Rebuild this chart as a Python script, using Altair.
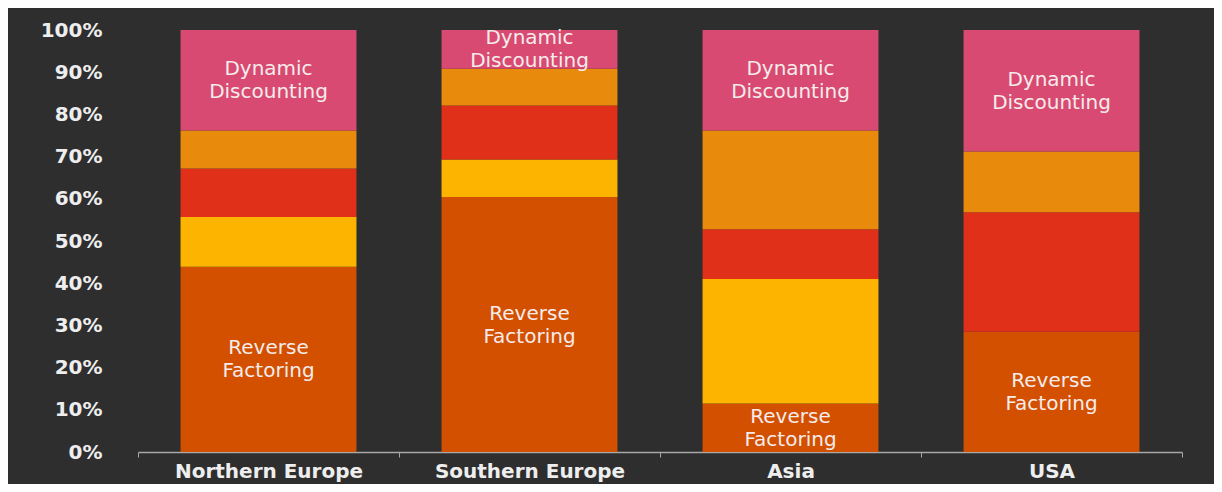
import altair as alt
import pandas as pd

regions = ["Northern Europe", "Southern Europe", "Asia", "USA"]
series = ["Reverse Factoring", "Series 2", "Series 3", "Series 4", "Dynamic Discounting"]
reverse_factoring = [43.9, 60.4, 11.5, 28.5]
series_2 = [11.8, 8.9, 29.5, 0.0]
series_3 = [11.5, 12.8, 11.8, 28.3]
series_4 = [9.0, 8.7, 23.4, 14.4]
dynamic_discounting = [23.8, 9.2, 23.8, 28.8]
segment_labels = {"Reverse Factoring": "Reverse\nFactoring",
                  "Dynamic Discounting": "Dynamic\nDiscounting"}
colors = ["#d35000", "#fdb400", "#e0301a", "#e88a0c", "#d94a72"]

values = [reverse_factoring, series_2, series_3, series_4, dynamic_discounting]
rows = []
for si, s in enumerate(series):
    for ri, r in enumerate(regions):
        rows.append({"region": r, "series": s, "order": si,
                     "value": values[si][ri],
                     "label": segment_labels.get(s, "")})
df = pd.DataFrame(rows)

x_enc = alt.X(
    "region:N", sort=regions,
    scale=alt.Scale(paddingInner=0, paddingOuter=0),
    axis=alt.Axis(title=None, labelAngle=0, labelFont="DejaVu Sans",
                  labelFontWeight="bold", labelFontSize=20, labelColor="#eeeeee",
                  labelLimit=0,
                  domainColor="#a8a8a8", domainWidth=1.5, tickColor="#a8a8a8",
                  tickSize=5, tickBand="extent", labelPadding=4, grid=False),
)

base = alt.Chart(df).transform_stack(
    stack="value", as_=["y0", "y1"], groupby=["region"],
    sort=[alt.SortField(field="order", order="ascending")],
)

bars = base.mark_bar(width=alt.RelativeBandSize(0.674)).encode(
    x=x_enc,
    y=alt.Y("y0:Q", scale=alt.Scale(domain=[0, 100]),
            axis=alt.Axis(title=None, values=list(range(0, 101, 10)),
                          labelExpr="datum.value + '%'", ticks=False, domain=False,
                          grid=False, labelPadding=36, labelFont="DejaVu Sans",
                          labelFontWeight="bold", labelFontSize=20,
                          labelColor="#eeeeee")),
    y2="y1:Q",
    color=alt.Color("series:N", scale=alt.Scale(domain=series, range=colors),
                    legend=None),
)

text = base.transform_filter("datum.label != ''").transform_calculate(
    mid="(datum.y0 + datum.y1) / 2"
).mark_text(font="DejaVu Sans", fontSize=20, lineHeight=23, lineBreak="\n",
            color="#f6ecec", align="center", baseline="middle", dy=-11).encode(
    x=alt.X("region:N", sort=regions),
    y=alt.Y("mid:Q"),
    text="label:N",
)

chart = alt.layer(bars, text).properties(
    width=1044, height=422,
    padding={"left": 130, "top": 22, "right": 32, "bottom": 32},
    autosize="none",
    background="#2e2e2e",
).configure_view(stroke=None)

chart.save("out.html", embed_options={"renderer": "svg", "actions": False})
